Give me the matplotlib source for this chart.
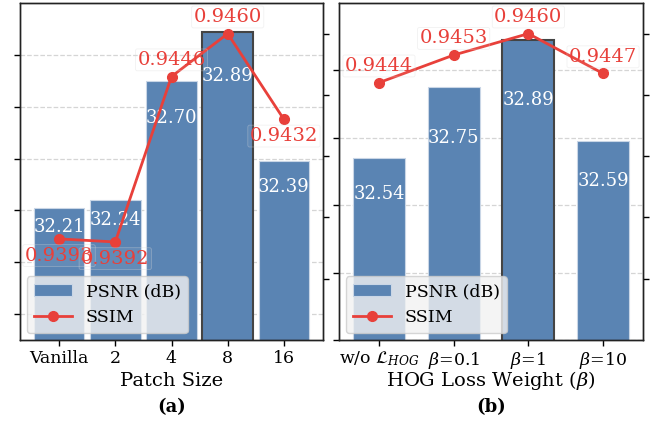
import matplotlib
matplotlib.use("Agg")
import matplotlib.pyplot as plt
import numpy as np

# panel (a): patch size
patch_labels = ["Vanilla", "2", "4", "8", "16"]
patch_psnr = [32.21, 32.24, 32.70, 32.89, 32.39]
patch_ssim = [0.9393, 0.9392, 0.9446, 0.9460, 0.9432]
patch_ssim_below = [True, True, False, False, True]

# panel (b): HOG loss weight
hog_labels = [r"w/o $\mathcal{L}_{HOG}$", r"$\beta$=0.1", r"$\beta$=1", r"$\beta$=10"]
hog_psnr = [32.54, 32.75, 32.89, 32.59]
hog_ssim = [0.9444, 0.9453, 0.9460, 0.9447]
hog_ssim_below = [False, False, False, False]

BAR_COLOR = "#5A84B3"
LINE_COLOR = "#E8403A"

plt.rcParams["font.family"] = ["DejaVu Serif"]
plt.rcParams["mathtext.fontset"] = "dejavuserif"


def draw_panel(ax, labels, psnr, ssim, below, width, psnr_lim, psnr_ticks,
               text_frac, xlabel, tag):
    x = np.arange(len(labels))
    best = int(np.argmax(psnr))
    edges = ["#444444" if i == best else "#C9D6E6" for i in range(len(x))]
    lws = [1.5 if i == best else 0.8 for i in range(len(x))]
    ax.bar(x, psnr, width=width, color=BAR_COLOR, edgecolor=edges,
           linewidth=lws, label="PSNR (dB)", zorder=2)
    ax.set_ylim(*psnr_lim)
    ax.set_yticks(psnr_ticks)
    ax.set_yticklabels([])
    ax.grid(axis="y", linestyle="--", color="#D5D5D5", linewidth=0.9, zorder=0)
    ax.set_axisbelow(True)
    ax.set_xticks(x)
    ax.set_xticklabels(labels, fontsize=12.5)
    ax.set_xlabel(xlabel, fontsize=14, va="center")
    ax.xaxis.set_label_coords(0.5, -0.121)
    ax.tick_params(axis="both", direction="out", length=4, width=1)
    ax.tick_params(axis="x", pad=3)
    lo = psnr_lim[0]
    for xi, v in zip(x, psnr):
        ax.text(xi, lo + text_frac * (v - lo), f"{v:.2f}", color="white",
                ha="center", va="center", fontsize=13, zorder=5)

    ax2 = ax.twinx()
    ax2.plot(x, ssim, color=LINE_COLOR, marker="o", markersize=7,
             linewidth=2, label="SSIM", zorder=4)
    ax2.set_ylim(0.936, 0.947)
    ax2.set_yticks([0.938, 0.940, 0.942, 0.944, 0.946])
    ax2.set_yticklabels([])
    ax2.tick_params(axis="y", direction="out", length=4, width=1)
    for xi, v, b in zip(x, ssim, below):
        ax2.annotate(f"{v:.4f}", (xi, v), xytext=(0, -12 if b else 12),
                     textcoords="offset points", ha="center",
                     va="center", color=LINE_COLOR, fontsize=14, zorder=6,
                     bbox=dict(boxstyle="round,pad=0.1", fc=(1, 1, 1, 0.06),
                               ec=(0.85, 0.85, 0.85, 0.35), lw=0.6))

    h1, l1 = ax.get_legend_handles_labels()
    h2, l2 = ax2.get_legend_handles_labels()
    leg = ax2.legend(h1 + h2, l1 + l2, loc="lower left", fontsize=12.5,
                     frameon=True, fancybox=True, framealpha=0.8,
                     facecolor="#F2F2F2", edgecolor="#CCCCCC",
                     bbox_to_anchor=(0.0, 0.0), borderaxespad=0.4,
                     handlelength=2.2)
    leg.set_zorder(10)
    ax.text(0.5, -0.199, tag, transform=ax.transAxes, ha="center",
            va="center", fontsize=13, fontweight="bold")
    for sp in list(ax.spines.values()) + list(ax2.spines.values()):
        sp.set_linewidth(1.0)
        sp.set_color("#222222")


fig = plt.figure(figsize=(6.57, 4.22), dpi=100)
ax_a = fig.add_axes([20 / 657, 1 - 340 / 422, 303 / 657, 337 / 422])
ax_b = fig.add_axes([339 / 657, 1 - 340 / 422, 304 / 657, 337 / 422])

draw_panel(ax_a, patch_labels, patch_psnr, patch_ssim, patch_ssim_below,
           0.9, (31.7, 33.0), [31.8, 32.0, 32.2, 32.4, 32.6, 32.8], 0.855,
           "Patch Size", "(a)")
draw_panel(ax_b, hog_labels, hog_psnr, hog_ssim, hog_ssim_below,
           0.7, (32.0, 33.0), [32.0, 32.2, 32.4, 32.6, 32.8], 0.80,
           r"HOG Loss Weight ($\beta$)", "(b)")

fig.savefig("out.png", dpi=100)
plt.close(fig)
